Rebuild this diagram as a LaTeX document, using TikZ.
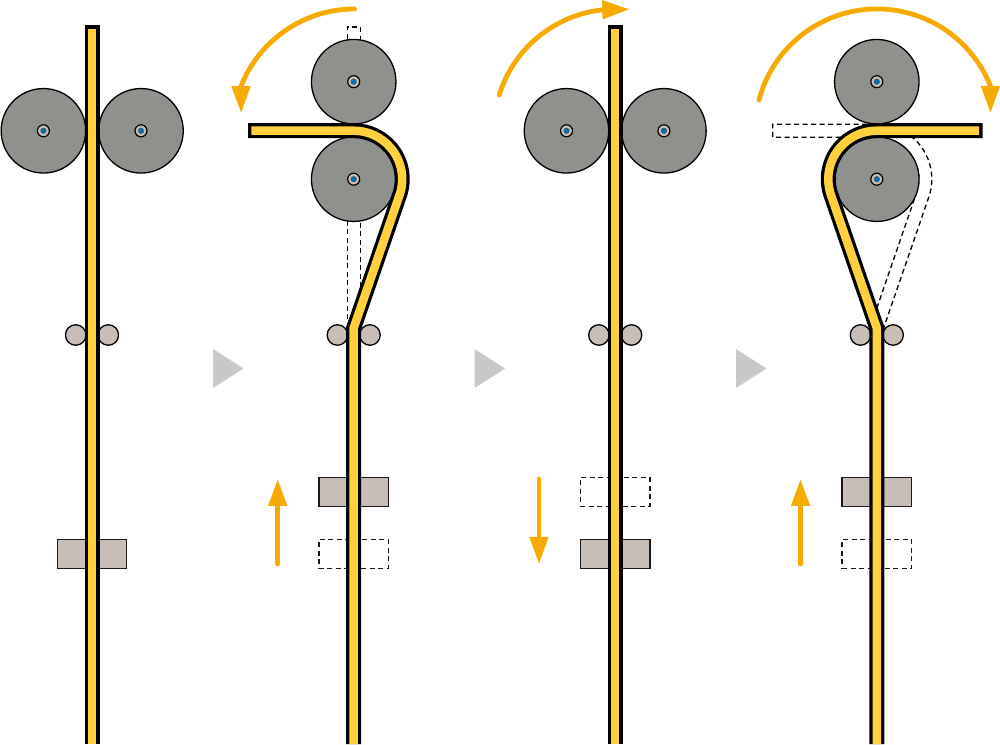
\documentclass[tikz,border=0pt]{standalone}
\usepackage{tikz}
\usetikzlibrary{arrows.meta}
\definecolor{stripyellow}{RGB}{255,209,60}
\definecolor{motionorange}{RGB}{247,171,0}
\definecolor{rollgray}{RGB}{143,145,140}
\definecolor{partbeige}{RGB}{200,190,183}
\definecolor{hubblue}{RGB}{0,113,188}
\definecolor{stepgray}{RGB}{200,201,199}
\newcommand{\bentcore}[1]{(0,0) -- (0,416) -- ++(45.86,133.01) arc[start angle=-19,end angle=90,radius=48.5] -- (#1,613.3)}
\newcommand{\bentstrip}{
  \draw[stripouter] \bentcore{-105.7};
  \draw[stripinner] \bentcore{-102.4};
}
\begin{document}
\begin{tikzpicture}[x=1pt,y=1pt,
          every node/.style={inner sep=0pt,outer sep=0pt},
          roller/.style={circle,draw,line width=1.3pt,minimum size=84.5pt,fill=rollgray},
          hub/.style={circle,draw,line width=1.2pt,minimum size=12pt,fill=partbeige},
          hubdot/.style={circle,draw=black!70,line width=0.5pt,minimum size=5.5pt,fill=hubblue},
          guide/.style={circle,draw,line width=1.3pt,minimum size=20.5pt,fill=partbeige},
          clampbox/.style={rectangle,draw=black!90,line width=1.3pt,minimum width=69.5pt,minimum height=28.5pt,fill=partbeige},
          clampghost/.style={rectangle,draw=black!90,line width=1.3pt,dash pattern=on 5pt off 3.5pt,minimum width=69.5pt,minimum height=28.5pt},
          ghostline/.style={draw=black,line width=1.3pt,dash pattern=on 5pt off 3.5pt},
          stripouter/.style={draw=black,line width=15pt,line join=miter},
          stripinner/.style={draw=stripyellow,line width=8.5pt,line join=miter},
          motion/.style={draw=motionorange,line width=4.8pt,line cap=round,
            -{Triangle[length=27pt,width=18pt,fill=motionorange]}}]
  \useasboundingbox (0,0) rectangle (1000,744);
  % step markers
  \foreach \sx in {213,474.5,736}
    \fill[stepgray] (\sx,395) -- (\sx,356) -- (\sx+30.5,375.5) -- cycle;
  % clamps
  \node[clampbox] (clampA) at (92,190) {};
  \node[clampbox] (clampB) at (353.7,252) {};
  \node[clampghost] (ghostB) at (353.7,190) {};
  \node[clampghost] (ghostC) at (615.2,252) {};
  \node[clampbox] (clampC) at (615.2,190) {};
  \node[clampbox] (clampD) at (876.8,252) {};
  \node[clampghost] (ghostD) at (876.8,190) {};
  % old strip positions
  \begin{scope}[shift={(353.7,0)}]
    \draw[ghostline] (-6.5,416) -- (-6.5,717) -- (6.5,717) -- (6.5,416);
  \end{scope}
  \begin{scope}[shift={(876.8,0)}]
    \draw[ghostline] (6.1,413.9) -- (52,546.9) arc[start angle=-19,end angle=90,radius=55]
      -- (-104,619.8) -- (-104,606.8) -- (0,606.8) arc[start angle=90,end angle=-19,radius=42] -- (-6.1,418.1);
  \end{scope}
  % rollers
  \foreach \nm/\cx/\cy in {a/43.4/613.2,b/141/613.2,c/353.7/662.3,d/353.7/564.8,e/566.5/613.2,f/663.9/613.2,g/876.8/662.3,h/876.8/564.8}{
    \node[roller] (roll\nm) at (\cx,\cy) {};
    \node[hub] (hub\nm) at (roll\nm) {};
    \node[hubdot] (dot\nm) at (roll\nm) {};
  }
  \foreach \nm/\cx in {a/92,b/353.7,c/615.2,d/876.8}{
    \node[guide] (guideL\nm) at (\cx-16.3,409) {};
    \node[guide] (guideR\nm) at (\cx+16.3,409) {};
  }
  % strips
  \draw[stripouter] (92,0) -- (92,718.5);
  \draw[stripinner] (92,0) -- (92,715.3);
  \draw[stripouter] (615.2,0) -- (615.2,718.5);
  \draw[stripinner] (615.2,0) -- (615.2,715.3);
  \begin{scope}[shift={(353.7,0)}]
    \bentstrip
  \end{scope}
  \begin{scope}[shift={(876.8,0)},xscale=-1]
    \bentstrip
  \end{scope}
  % motion arrows
  \coordinate (liftB) at (277.7,180);
  \coordinate (liftBtip) at (277.7,265);
  \coordinate (dropC) at (539,265);
  \coordinate (dropCtip) at (539,180);
  \coordinate (liftD) at (800.5,180);
  \coordinate (liftDtip) at (800.5,265);
  \draw[motion] (liftB) -- (liftBtip);
  \draw[motion] (dropC) -- (dropCtip);
  \draw[motion] (liftD) -- (liftDtip);
  \draw[motion] (354.5,735) arc[start angle=90,end angle=158.4,radius=122] -- ++(0,-27);
  \draw[motion] (499.2,649) arc[start angle=162.8,end angle=96.3,radius=122] -- ++(27,0.5);
  \draw[motion] (759,644) arc[start angle=165.3,end angle=21.6,radius=122] -- ++(0,-27);
\end{tikzpicture}
\end{document}
